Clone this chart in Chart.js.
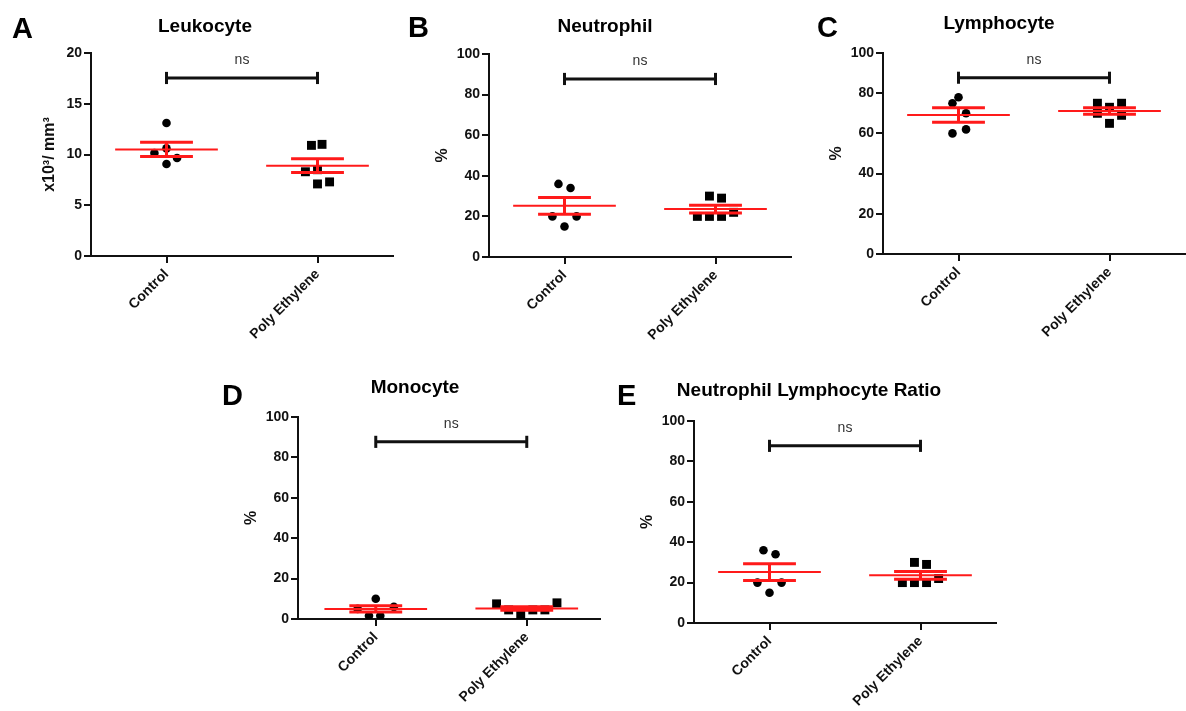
<!DOCTYPE html>
<html>
<head>
<meta charset="utf-8">
<script src="https://cdn.jsdelivr.net/npm/chart.js@4.4.1/dist/chart.umd.min.js"></script>
<style>
html, body { margin: 0; padding: 0; background: #fff; width: 1186px; height: 711px; overflow: hidden; }
canvas { position: absolute; }
</style>
</head>
<body>
<script>
const groups = ['Control', 'Poly Ethylene'];

// A - Leukocyte
const leukoControl = [13.1, 10.15, 10.6, 9.65, 9.06];
const leukoControlJitter = [0, -0.08, 0, 0.07, 0];
const leukoPoly = [10.9, 11.0, 8.3, 8.5, 7.1, 7.3];
const leukoPolyJitter = [-0.04, 0.03, -0.08, 0, 0, 0.08];
const leukoMean = [10.5, 8.9];
const leukoSem = [0.7, 0.68];
const leukoTicks = [0, 5, 10, 15, 20];

// B - Neutrophil
const neutroControl = [36, 34, 20, 20, 15];
const neutroControlJitter = [-0.04, 0.04, -0.08, 0.08, 0];
const neutroPoly = [30, 29, 20, 20, 20, 22];
const neutroPolyJitter = [-0.04, 0.04, -0.12, -0.04, 0.04, 0.12];
const neutroMean = [25.2, 23.6];
const neutroSem = [4.1, 1.9];

// C - Lymphocyte
const lymphoControl = [78, 75, 70, 62, 60];
const lymphoControlJitter = [0, -0.04, 0.05, 0.05, -0.04];
const lymphoPoly = [75, 75, 73, 70, 69, 65];
const lymphoPolyJitter = [-0.08, 0.08, 0, -0.08, 0.08, 0];
const lymphoMean = [69.1, 71.1];
const lymphoSem = [3.6, 1.6];

// D - Monocyte
const monoControl = [10, 1.6, 1.6, 5, 6];
const monoControlJitter = [0, -0.045, 0.03, -0.12, 0.12];
const monoPoly = [7.5, 8, 2, 4.5, 4.5, 4.5];
const monoPolyJitter = [-0.2, 0.2, -0.04, -0.12, 0.04, 0.12];
const monoMean = [5.0, 5.2];
const monoSem = [1.5, 0.9];

// E - Neutrophil Lymphocyte Ratio
const nlrControl = [36, 34, 20, 20, 15];
const nlrControlJitter = [-0.04, 0.04, -0.08, 0.08, 0];
const nlrPoly = [30, 29, 20, 20, 20, 22];
const nlrPolyJitter = [-0.04, 0.04, -0.12, -0.04, 0.04, 0.12];
const nlrMean = [25.2, 23.6];
const nlrSem = [4.1, 1.9];

const percentTicks = [0, 20, 40, 60, 80, 100];

Chart.defaults.font.family = '"Liberation Sans", Arial, sans-serif';
Chart.defaults.color = '#111';

const CW = 410, CH = 350, AREA_W = 302;

const panels = [
	{ letter: 'A', title: 'Leukocyte', yTitle: 'x10³/ mm³', ticks: leukoTicks, control: leukoControl, controlJitter: leukoControlJitter, poly: leukoPoly, polyJitter: leukoPolyJitter, mean: leukoMean, sem: leukoSem,
		axisX: 91, top: 53, bottom: 256, xMin: -0.5, letterX: 12, letterY: 38, titleX: 205, titleY: 32, yTitleX: 50 },
	{ letter: 'B', title: 'Neutrophil', yTitle: '%', ticks: percentTicks, control: neutroControl, controlJitter: neutroControlJitter, poly: neutroPoly, polyJitter: neutroPolyJitter, mean: neutroMean, sem: neutroSem,
		axisX: 489, top: 54, bottom: 257, xMin: -0.5, letterX: 408, letterY: 37, titleX: 605, titleY: 32, yTitleX: 443 },
	{ letter: 'C', title: 'Lymphocyte', yTitle: '%', ticks: percentTicks, control: lymphoControl, controlJitter: lymphoControlJitter, poly: lymphoPoly, polyJitter: lymphoPolyJitter, mean: lymphoMean, sem: lymphoSem,
		axisX: 883, top: 53, bottom: 254, xMin: -0.5, letterX: 817, letterY: 37, titleX: 999, titleY: 29, yTitleX: 837 },
	{ letter: 'D', title: 'Monocyte', yTitle: '%', ticks: percentTicks, control: monoControl, controlJitter: monoControlJitter, poly: monoPoly, polyJitter: monoPolyJitter, mean: monoMean, sem: monoSem,
		axisX: 298, top: 417, bottom: 619, xMin: -0.515, letterX: 222, letterY: 405, titleX: 415, titleY: 393, yTitleX: 252 },
	{ letter: 'E', title: 'Neutrophil Lymphocyte Ratio', yTitle: '%', ticks: percentTicks, control: nlrControl, controlJitter: nlrControlJitter, poly: nlrPoly, polyJitter: nlrPolyJitter, mean: nlrMean, sem: nlrSem,
		axisX: 694, top: 421, bottom: 623, xMin: -0.5, letterX: 617, letterY: 405, titleX: 809, titleY: 396, yTitleX: 648 },
];

// letters, titles and the "ns" label
const panelText = {
	id: 'panelText',
	afterDraw(chart, args, opts) {
		const ctx = chart.ctx;
		ctx.save();
		ctx.fillStyle = '#000';
		ctx.textBaseline = 'alphabetic';
		ctx.textAlign = 'left';
		ctx.font = 'bold 29px "Liberation Sans", Arial, sans-serif';
		ctx.fillText(opts.letter, opts.letterX, opts.letterY);
		ctx.textAlign = 'center';
		ctx.font = 'bold 19px "Liberation Sans", Arial, sans-serif';
		ctx.fillText(opts.title, opts.titleX, opts.titleY);
		const x = chart.scales.x.getPixelForValue(0.5);
		const y = chart.scales.y.getPixelForValue(opts.nsY);
		ctx.fillStyle = '#333';
		ctx.textBaseline = 'middle';
		ctx.font = '14px "Liberation Sans", Arial, sans-serif';
		ctx.fillText('ns', x, y);
		ctx.restore();
	},
};

function segment(x1, y1, x2, y2, color, width) {
	return {
		data: [{ x: x1, y: y1 }, { x: x2, y: y2 }],
		showLine: true,
		borderColor: color,
		borderWidth: width,
		pointRadius: 0,
		borderCapStyle: 'butt',
		order: 0,
	};
}

panels.forEach((p, n) => {
	const cx = p.axisX - 100;
	const cy = p.top - 60;
	const canvas = document.createElement('canvas');
	canvas.width = CW;
	canvas.height = CH;
	canvas.style.left = cx + 'px';
	canvas.style.top = cy + 'px';
	document.body.appendChild(canvas);

	const yMax = p.ticks[p.ticks.length - 1];
	const bracketY = yMax * 0.877;
	const cap = yMax * 0.03;
	const chartBottom = p.bottom - cy;
	const padLeft = p.yTitleX - cx - 9.6;

	const datasets = [
		{ data: p.control.map((v, k) => ({ x: 0 + p.controlJitter[k], y: v })), pointStyle: 'circle', pointRadius: 4.3, backgroundColor: '#000', borderWidth: 0, order: 1 },
		{ data: p.poly.map((v, k) => ({ x: 1 + p.polyJitter[k], y: v })), pointStyle: 'rect', pointRadius: 6.3, backgroundColor: '#000', borderWidth: 0, order: 1 },
	];
	p.mean.forEach((m, i) => {
		const s = p.sem[i];
		datasets.push(segment(i - 0.34, m, i + 0.34, m, '#ff1a1a', 2));
		datasets.push(segment(i - 0.175, m + s, i + 0.175, m + s, '#ff1a1a', 3));
		datasets.push(segment(i - 0.175, m - s, i + 0.175, m - s, '#ff1a1a', 3));
		datasets.push(segment(i, m - s, i, m + s, '#ff1a1a', 3));
	});
	datasets.push(segment(0, bracketY, 1, bracketY, '#111', 3));
	datasets.push(segment(0, bracketY - cap, 0, bracketY + cap, '#111', 3));
	datasets.push(segment(1, bracketY - cap, 1, bracketY + cap, '#111', 3));

	new Chart(canvas, {
		type: 'scatter',
		data: { datasets },
		plugins: [panelText],
		options: {
			responsive: false,
			animation: false,
			devicePixelRatio: 1,
			events: [],
			layout: { padding: { left: padLeft, top: 60, right: CW - 100 - AREA_W, bottom: 0 } },
			plugins: {
				legend: { display: false },
				tooltip: { enabled: false },
				panelText: {
					letter: p.letter, letterX: p.letterX - cx, letterY: p.letterY - cy,
					title: p.title, titleX: p.titleX - cx, titleY: p.titleY - cy,
					nsY: yMax * 0.965,
				},
			},
			scales: {
				x: {
					type: 'linear',
					min: p.xMin,
					max: p.xMin + 2,
					afterBuildTicks: (scale) => { scale.ticks = [{ value: 0 }, { value: 1 }]; },
					afterFit: (scale) => { scale.height = CH - chartBottom; },
					ticks: {
						callback: (v) => groups[v],
						autoSkip: false,
						minRotation: 45,
						maxRotation: 45,
						padding: 3,
						color: '#111',
						font: { size: 14, weight: 'bold' },
					},
					grid: { drawOnChartArea: false, drawTicks: true, tickLength: 7, color: '#111', lineWidth: 2 },
					border: { color: '#111', width: 2 },
				},
				y: {
					min: 0,
					max: yMax,
					afterBuildTicks: (scale) => { scale.ticks = p.ticks.map((v) => ({ value: v })); },
					afterFit: (scale) => { scale.width = 100 - padLeft; },
					ticks: { padding: 2, color: '#111', font: { size: 14, weight: 'bold' } },
					grid: { drawOnChartArea: false, drawTicks: true, tickLength: 7, color: '#111', lineWidth: 2 },
					border: { color: '#111', width: 2 },
					title: { display: true, text: p.yTitle, color: '#111', padding: { top: 0, bottom: 0 }, font: { size: 16, weight: 'bold' } },
				},
			},
		},
	});
});
</script>
</body>
</html>
